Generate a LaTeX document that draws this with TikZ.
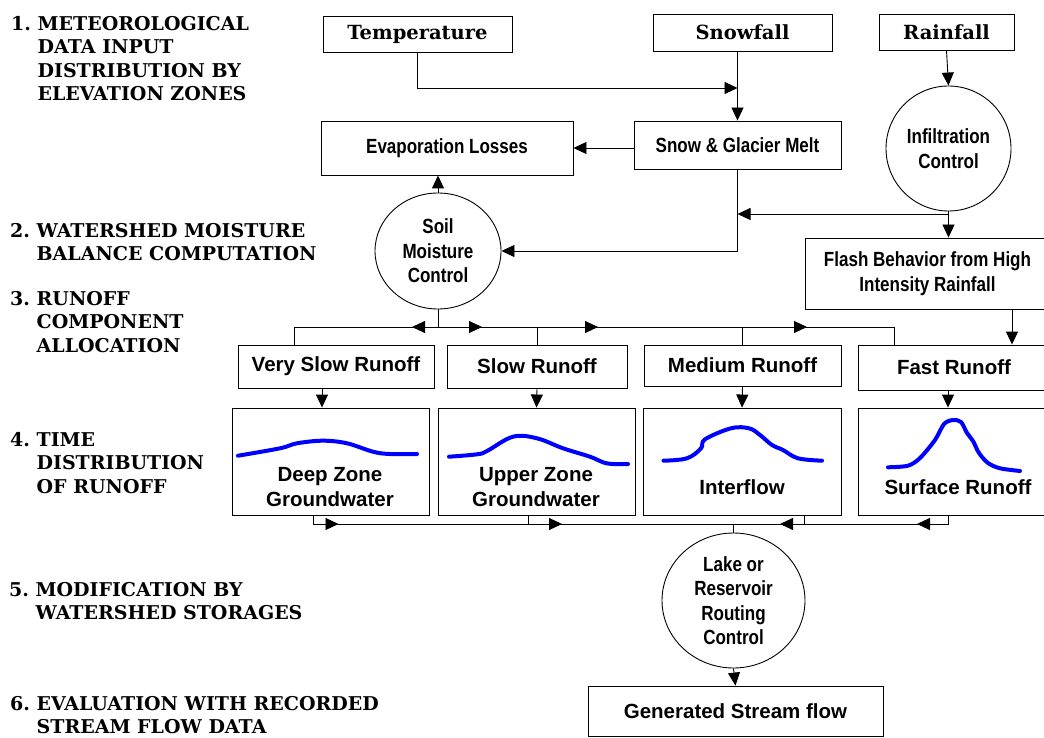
\documentclass[tikz,border=0pt]{standalone}
\usepackage{fontspec}
\setmainfont{DejaVu Serif}
\setsansfont{Liberation Sans}
\newfontfamily\narrowsf{Liberation Sans}[FakeStretch=0.83]
\usepackage{tikz}
\usetikzlibrary{shapes.geometric, arrows.meta, positioning, calc}
\definecolor{hydroblue}{RGB}{0,0,255}

\newcommand{\hind}{\phantom{1.\ }}

\begin{document}
\begin{tikzpicture}[x=1pt, y=-1pt,
  every node/.style={inner sep=0pt},
  sbox/.style={rectangle, draw, line width=0.9pt, align=center,
               font=\fontsize{20.5}{25}\selectfont\sffamily\bfseries},
  nbox/.style={sbox, font=\fontsize{20.5}{24.5}\selectfont\narrowsf\bfseries},
  serifbox/.style={sbox, font=\fontsize{19.5}{22}\selectfont\rmfamily\bfseries},
  ctrl/.style={ellipse, draw, line width=0.9pt, align=center,
               font=\fontsize{20.5}{24.5}\selectfont\narrowsf\bfseries},
  curvebox/.style={rectangle, draw, line width=0.9pt, minimum height=107pt},
  curvelbl/.style={align=center, font=\fontsize{20.5}{25}\selectfont\sffamily\bfseries},
  head/.style={anchor=north west, align=left,
               font=\fontsize{19}{23.5}\selectfont\rmfamily\bfseries},
  hydro/.style={hydroblue, line width=4pt, line cap=round, line join=round},
  arr/.style={-{Triangle[length=13pt,width=12pt]}, line width=0.9pt},
  link/.style={line width=0.9pt}
]
\useasboundingbox (0,0) rectangle (1044,738);

%% -- stage headings ---------------------------------------------------
\node[head] (h1) at (11,16)  {1.\ METEOROLOGICAL\\\hind DATA INPUT\\\hind DISTRIBUTION BY\\\hind ELEVATION ZONES};
\node[head] (h2) at (10,223) {2.\ WATERSHED MOISTURE\\\hind BALANCE COMPUTATION};
\node[head] (h3) at (10,291) {3.\ RUNOFF\\\hind COMPONENT\\\hind ALLOCATION};
\node[head] (h4) at (10,432) {4.\ TIME\\\hind DISTRIBUTION\\\hind OF RUNOFF};
\node[head] (h5) at (9,582)  {5.\ MODIFICATION BY\\\hind WATERSHED STORAGES};
\node[head] (h6) at (10,696) {6.\ EVALUATION WITH RECORDED\\\hind STREAM FLOW DATA};

%% -- inputs and moisture balance --------------------------------------
\node[serifbox, minimum width=189pt, minimum height=36pt] (temp) at (417.5,34)   {Temperature};
\node[serifbox, minimum width=179pt, minimum height=37pt] (snow) at (742.5,32.5) {Snowfall};
\node[serifbox, minimum width=135pt, minimum height=36pt] (rain) at (946.5,32)   {Rainfall};

\node[nbox, minimum width=252pt, minimum height=54pt] (evap)  at (447,148)     {Evaporation Losses};
\node[nbox, minimum width=207pt, minimum height=48pt] (melt)  at (737.5,145)   {Snow \& Glacier Melt};
\node[ctrl, minimum width=125pt, minimum height=125pt] (infil) at (948.5,148.5) {Infiltration\\Control};
\node[ctrl, minimum width=126pt, minimum height=116pt] (soil)  at (438,251)     {Soil\\Moisture\\Control};
\node[nbox, minimum width=245pt, minimum height=71pt] (flash) at (927.5,273.5) {Flash Behavior from High\\Intensity Rainfall};

%% -- runoff components ------------------------------------------------
\node[sbox, minimum width=196pt, minimum height=43pt] (vslow)  at (336,366.5)   {Very Slow Runoff};
\node[sbox, minimum width=180pt, minimum height=43pt] (slow)   at (537,366.5)   {Slow Runoff};
\node[sbox, minimum width=197pt, minimum height=41pt] (medium) at (742.5,365.5) {Medium Runoff};
\node[sbox, minimum width=192pt, minimum height=45pt] (fast)   at (954,367.5)   {Fast Runoff};

%% -- time distribution ------------------------------------------------
\node[curvebox, minimum width=197pt] (deep)    at (330.5,461.5) {};
\node[curvebox, minimum width=197pt] (upper)   at (536.5,461.5) {};
\node[curvebox, minimum width=198pt] (inter)   at (742,461.5)   {};
\node[curvebox, minimum width=192pt] (surface) at (954,461.5)   {};

\draw[hydro] plot[smooth, tension=0.6] coordinates {(238,455.7) (280,448.3) (297,443.3) (323,440.7)
  (347,443.3) (373,451.7) (390,454) (417,454)};
\draw[hydro] plot[smooth, tension=0.6] coordinates {(449,456.7) (477,454.3) (487,451) (513,436.7)
  (537,438.3) (563,448.3) (590,456.7) (603,462.3) (613,464) (628,464)};
\draw[hydro] plot[smooth, tension=0.6] coordinates {(663.5,460.7) (687,458.3) (701,448.3) (705,439.3)
  (731,428.3) (749,428.3) (760,435) (772,445) (783,450) (798,458.3) (822,460.7)};
\draw[hydro] plot[smooth, tension=0.5] coordinates {(888,467.3) (908,465.7) (920,458) (935,440)
  (944,424) (953,420) (961,422) (967,433) (973,441) (979,453) (988,463) (1000,468.3) (1020,471)};

\node[curvelbl] (deeplbl)    at (330,487)   {Deep Zone\\Groundwater};
\node[curvelbl] (upperlbl)   at (536,487)   {Upper Zone\\Groundwater};
\node[curvelbl] (interlbl)   at (742,487.5) {Interflow};
\node[curvelbl] (surfacelbl) at (958,487.5) {Surface Runoff};

%% -- storage routing and output ---------------------------------------
\node[ctrl, minimum width=143pt, minimum height=135pt] (lake) at (733.5,600.5) {Lake or\\Reservoir\\Routing\\Control};
\node[sbox, minimum width=295pt, minimum height=50pt] (gen) at (735.5,711) {Generated Stream flow};

%% -- connectors -------------------------------------------------------
\coordinate (tj) at (737.5,88);
\draw[arr] (temp.south) |- (tj);
\draw[arr] (snow.south -| melt.north) -- (melt.north);
\draw[arr] (melt.west |- evap.east) -- (evap.east);
\draw[arr] (soil.north) -- (soil.north |- evap.south);
\draw[arr] (rain.south) -- (infil.north);
\draw[arr] (melt.south) |- (soil.east);

\coordinate (ij) at (948.5,214);
\draw[arr] (ij) -- (ij -| melt.south);
\draw[arr] (infil.south) -- (infil.south |- flash.north);
\draw[arr] ([xshift=84.5pt]flash.south) -- ([xshift=84.5pt]flash.south |- fast.north);

% split of soil moisture into runoff components
\coordinate (split) at (438,327);
\draw[link] (soil.south) -- (split);
\draw[link] ([xshift=-42pt]vslow.north) |- ([xshift=-60pt]fast.north |- split) -- ([xshift=-60pt]fast.north);
\draw[link] (slow.north) -- (slow.north |- split);
\draw[link] (medium.north) -- (medium.north |- split);
\draw[arr] (split) -- ++(-26,0);
\draw[arr] (split) -- ++(44,0);
\draw[arr] (split) -- ++(160,0);
\draw[arr] (split) -- ++(369,0);

\draw[arr] ([xshift=-14pt]vslow.south) -- ([xshift=-14pt]vslow.south |- deep.north);
\draw[arr] (slow.south) -- (upper.north);
\draw[arr] (medium.south) -- (inter.north);
\draw[arr] ([xshift=-6pt]fast.south) -- ([xshift=-6pt]fast.south |- surface.north);

% merge into lake routing
\coordinate (merge) at (733.5,524);
\draw[link] (merge) -- (lake.north);
\draw[link] ([xshift=-17pt]deep.south) |- ([xshift=-6pt]surface.south |- merge) -- ([xshift=-6pt]surface.south);
\draw[link] ([xshift=-8.5pt]upper.south) -- ([xshift=-8.5pt]upper.south |- merge);
\draw[link] ([xshift=62.5pt]inter.south) -- ([xshift=62.5pt]inter.south |- merge);
\draw[arr] ([xshift=-17pt]deep.south |- merge) -- ([xshift=8pt]deep.south |- merge);
\draw[arr] ([xshift=-8.5pt]upper.south |- merge) -- ([xshift=25.5pt]upper.south |- merge);
\draw[arr] ([xshift=62.5pt]inter.south |- merge) -- ([xshift=38pt]inter.south |- merge);
\draw[arr] ([xshift=-6pt]surface.south |- merge) -- ([xshift=-37pt]surface.south |- merge);

\draw[arr] (lake.south) -- (gen.north);

\end{tikzpicture}
\end{document}
